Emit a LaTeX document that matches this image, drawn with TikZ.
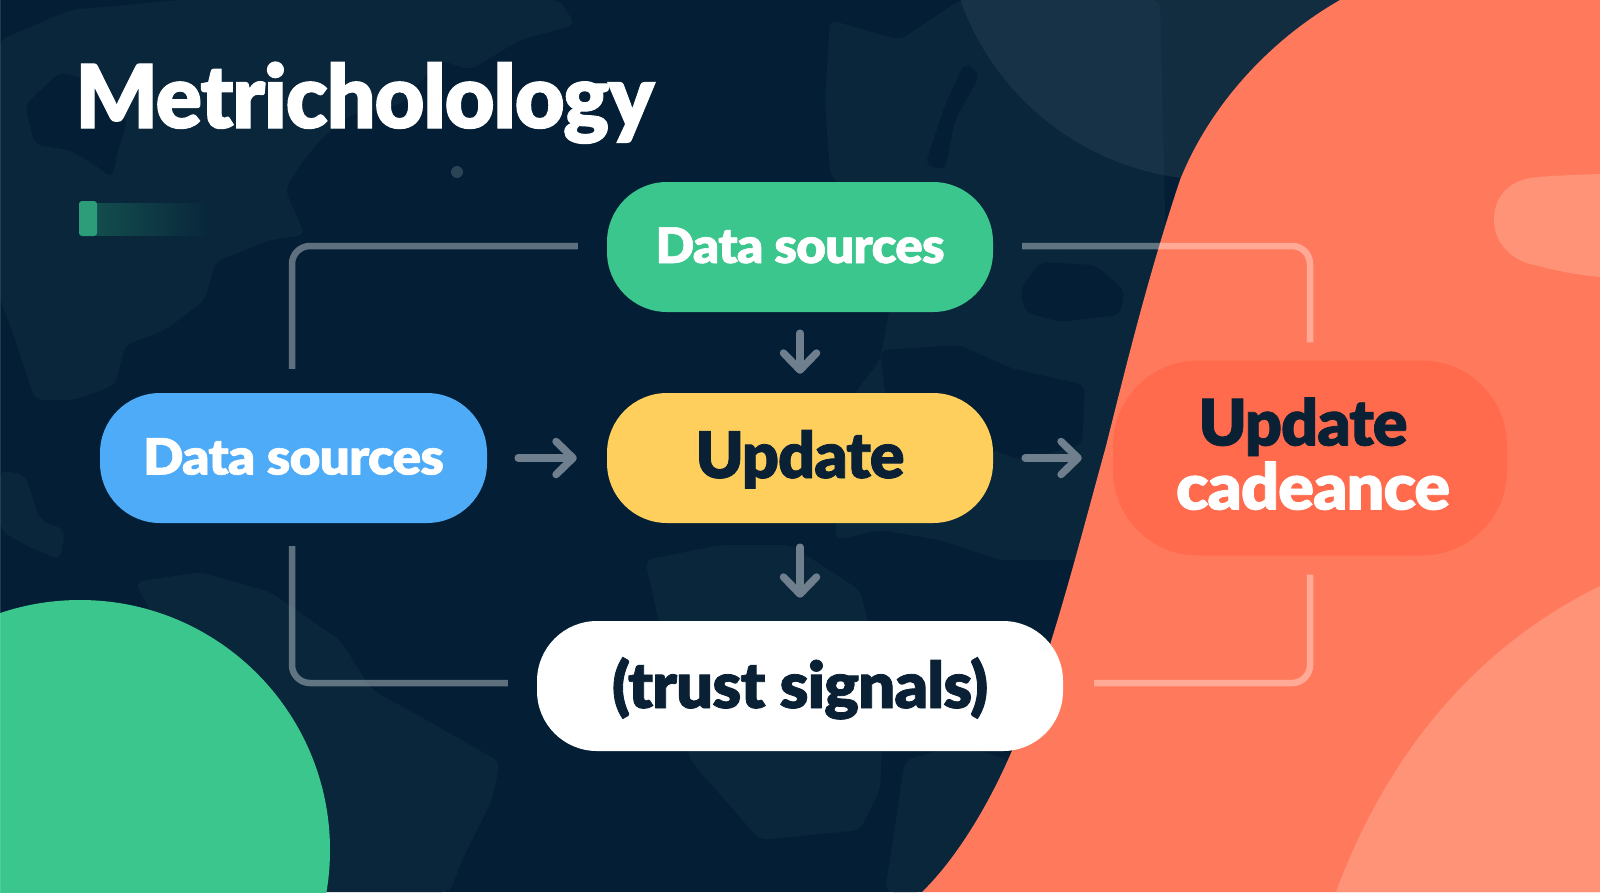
\documentclass[tikz,border=0pt]{standalone}
\usepackage{fontspec}
\setmainfont{Lato}[BoldFont={Lato Black},BoldFeatures={FakeBold=1.2,LetterSpace=-1.5}]
\usetikzlibrary{arrows.meta,fadings}
\definecolor{bgdark}{HTML}{041F35}
\definecolor{land}{HTML}{09263B}
\definecolor{coral}{HTML}{FF7A5C}
\definecolor{coralhi}{HTML}{FF9378}
\definecolor{coraldeep}{HTML}{FF6B4C}
\definecolor{mint}{HTML}{3BC68E}
\definecolor{sky}{HTML}{4DABF8}
\definecolor{sun}{HTML}{FECF5C}
\definecolor{ink}{HTML}{0A2035}
\definecolor{arrowgrey}{HTML}{6F7F8E}
\newcommand{\squeezed}[3]{\fontsize{#1}{#1}\selectfont\scalebox{#2}[1]{#3}}
\newcommand{\dropped}[2]{\raisebox{-#1pt}[0pt][0pt]{#2}}
\tikzset{
  pill/.style={rectangle,rounded corners=60pt,minimum height=130pt,inner sep=0pt,font=\bfseries,align=center},
  link/.style={draw=white,draw opacity=.36,line width=6.5pt,rounded corners=18pt},
  flow/.style={draw=arrowgrey,line width=7.5pt,line cap=round,-{Straight Barb[length=17pt,width=33pt,line width=7.5pt,round]}},
  map/.style={fill=land,draw=none,rounded corners=8pt},
  sea/.style={fill=bgdark,draw=none,rounded corners=8pt},
}
\begin{document}
\begin{tikzpicture}[x=1pt,y=-1pt]
\useasboundingbox (0,0) rectangle (1600,892);
\clip (0,0) rectangle (1600,892);
\fill[bgdark] (0,0) rectangle (1600,892);
% faint world map
\fill[map] (0,40) -- (70,10) -- (180,0) -- (560,0) -- (575,25) -- (520,40) -- (470,70) -- (440,60) -- (400,105) -- (350,115) -- (320,140) -- (300,165) -- (285,190) -- (305,235) -- (270,240) -- (215,262) -- (205,300) -- (165,330) -- (125,345) -- (115,385) -- (75,400) -- (35,400) -- (12,330) -- (0,300) -- cycle;
\fill[sea] (25,105) -- (60,72) -- (95,82) -- (128,120) -- (118,150) -- (112,178) -- (95,165) -- (70,150) -- (35,145) -- cycle;
\fill[map] (0,470) -- (25,475) -- (40,520) -- (65,530) -- (60,560) -- (25,545) -- (0,530) -- cycle;
\fill[map] (135,582) -- (200,572) -- (270,592) -- (340,640) -- (372,690) -- (430,722) -- (500,762) -- (492,800) -- (462,860) -- (450,892) -- (300,892) -- cycle;
\fill[map] (830,20) -- (900,40) -- (960,0) -- (1160,0) -- (1170,420) -- (1130,530) -- (1080,560) -- (1000,560) -- (940,540) -- (880,530) -- (836,540) -- (835,420) -- (880,360) -- (895,280) -- (870,215) -- (830,175) -- (825,100) -- cycle;
\fill[sea] (925,165) -- (945,105) -- (965,62) -- (980,75) -- (955,120) -- (945,170) -- cycle;
\fill[sea] (1020,290) -- (1040,262) -- (1095,265) -- (1125,290) -- (1120,315) -- (1060,322) -- (1025,312) -- cycle;
\fill[sea] (880,350) -- (960,345) -- (1010,368) -- (1085,385) -- (1082,445) -- (1020,460) -- (940,430) -- (885,395) -- cycle;
\fill[map] (645,560) -- (720,545) -- (790,545) -- (860,590) -- (885,690) -- (880,790) -- (860,830) -- (760,840) -- (690,760) -- cycle;
\fill[map] (905,760) -- (960,745) -- (1010,760) -- (980,830) -- (925,892) -- (885,892) -- cycle;
% top translucent disc
\fill[white,opacity=.06] (1215,-90) circle (270);
% coral field
\fill[coral] (1340,0) .. controls (1270,40) and (1210,105) .. (1180,180) .. controls (1150,270) and (1130,350) .. (1106,446) .. controls (1080,540) and (1050,660) .. (1014,746) .. controls (985,815) and (950,865) .. (922,892) -- (1600,892) -- (1600,0) -- cycle;
\fill[coralhi] (1600,174) .. controls (1570,175) and (1545,176) .. (1530,178) .. controls (1505,183) and (1494,200) .. (1494,220) .. controls (1494,245) and (1515,262) .. (1535,265) .. controls (1560,272) and (1580,275) .. (1600,277) -- cycle;
\fill[coralhi] (1336,892) .. controls (1385,760) and (1470,650) .. (1600,586) -- (1600,892) -- cycle;
% mint disc
\fill[mint] (80,850) circle (250);
% accents
\fill[mint!28!bgdark,path fading=east] (95,203) rectangle (210,236);
\fill[mint!75!bgdark,rounded corners=3pt] (79,201) rectangle (97,236);
\fill[white,opacity=.16] (457,172) circle (6);
\fill[white,opacity=.12] (0,0) rectangle (1.2,892);
% pills
\node[pill,fill=mint,minimum width=386pt,text=white] (top) at (800,247) {\dropped{16}{\squeezed{49}{1.04}{Data sources}}};
\node[pill,fill=sky,minimum width=387pt,text=white] (left) at (293.5,458) {\dropped{16.5}{\squeezed{50}{1.06}{Data sources}}};
\node[pill,fill=sun,minimum width=386pt,text=ink] (mid) at (800,458) {\dropped{20}{\squeezed{64}{1.01}{Update}}};
\node[pill,fill=coraldeep,minimum width=394pt,minimum height=195pt,rounded corners=85pt,text=ink] (right) at (1310,458) {\hspace*{-14pt}\dropped{11.5}{\squeezed{64}{1.01}{Update}}\\[36pt]\hspace*{6pt}\textcolor{white}{\dropped{27.5}{\squeezed{64}{1.04}{cadeance}}}};
\node[pill,fill=white,minimum width=526pt,text=ink] (bottom) at (800,686) {\dropped{22}{\squeezed{64}{1.02}{(trust signals)}}};
% title
\node[anchor=base west,inner sep=0pt,text=white,font=\bfseries] (title) at (75,128) {\squeezed{88}{.982}{Metricholology}};
% loop connectors
\draw[link] ([xshift=-29pt,yshift=1pt]top.west) -| ([xshift=-1.5pt,yshift=24pt]left.north);
\draw[link] ([xshift=29pt,yshift=1pt]top.east) -| ([yshift=18pt]right.north);
\draw[link] ([xshift=-1.5pt,yshift=-23pt]left.south) |- ([xshift=-29pt,yshift=3pt]bottom.west);
\draw[link] ([yshift=-19pt]right.south) |- ([xshift=31pt,yshift=3pt]bottom.east);
% arrows
\draw[flow] ([yshift=-21pt]top.south) -- ([yshift=19pt]mid.north);
\draw[flow] ([yshift=-24pt]mid.south) -- ([yshift=23pt]bottom.north);
\draw[flow] ([xshift=31pt]left.east) -- ([xshift=-30pt]mid.west);
\draw[flow] ([xshift=32pt]mid.east) -- ([xshift=-31pt]right.west);
\end{tikzpicture}
\end{document}
